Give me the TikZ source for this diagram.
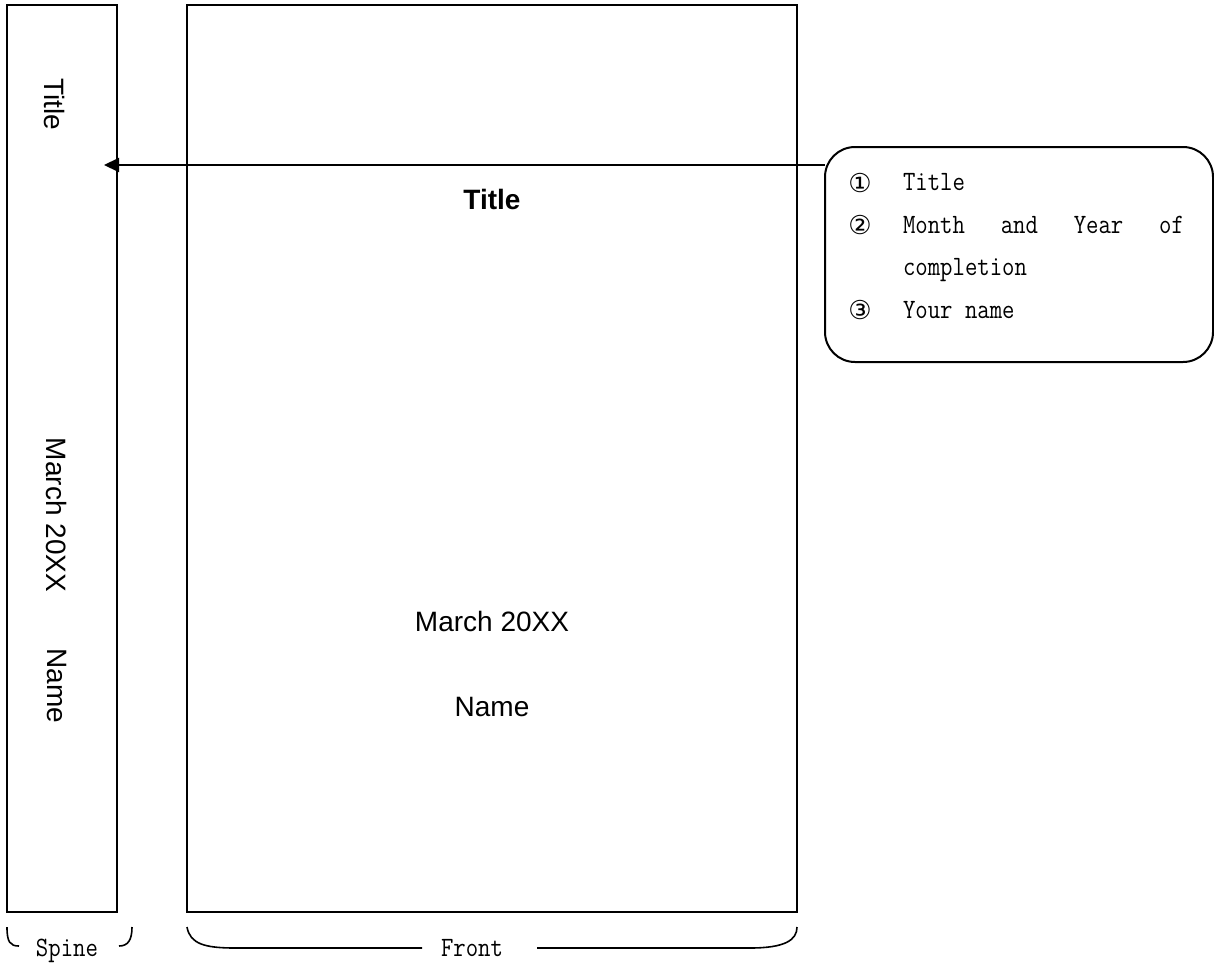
\documentclass[tikz,border=0pt]{standalone}
\usepackage{fontspec}
\setsansfont{Liberation Sans}
\setmonofont[Extension=.otf,FakeStretch=0.86]{lmmono12-regular}
\newfontfamily\circfont{DejaVu Sans}
\usetikzlibrary{arrows.meta}

\begin{document}
\begin{tikzpicture}[x=0.5pt,y=-0.5pt,>={Triangle[length=7.5pt,width=7pt]},line width=1pt,
  page/.style={draw,inner sep=0pt,outer sep=0pt,minimum height=453.5pt},
  sans/.style={font=\fontsize{14}{17}\selectfont\sffamily},
  mono/.style={font=\fontsize{14}{16}\selectfont\ttfamily,inner sep=0pt},
  circ/.style={font=\fontsize{13}{15}\selectfont\circfont,inner sep=0pt},
  brace/.style={line width=0.8pt}]
\useasboundingbox (0,0) rectangle (1214,963);

% define the spine and the front cover
  \node[page, minimum width=55pt]  (spine) at (62,458.5)  {};
  \node[page, minimum width=305pt] (front) at (492,458.5) {};

% texts on the spine
  \node[sans, rotate=-90] (sptitle) at (55,104) {Title};
  \node[sans, rotate=-90] (spdate)  at (57,515) {March 20XX};
  \node[sans, rotate=-90] (spname)  at (57,686) {Name};

% texts on the front
  \node[sans, font=\fontsize{14}{17}\selectfont\sffamily\bfseries] (frtitle) at (492,199) {Title};
  \node[sans] (frdate) at (492,621) {March 20XX};
  \node[sans] (frname) at (492,707) {Name};

% define the note
  \node[draw, rounded corners=15pt, minimum width=194pt, minimum height=107.5pt,
        inner sep=0pt, outer sep=0pt] (note) at (1019,254.5) {};
  \node[circ] (n1) at (860,183) {①};
  \node[circ] (n2) at (860,225) {②};
  \node[circ] (n3) at (860,310) {③};
  \node[mono, anchor=base west] (item1)  at (902,190)   {Title};
  \node[mono, anchor=base west] (item2)  at (902,233)   {\hbox to 140.5pt{Month\hfill and\hfill Year\hfill of}};
  \node[mono, anchor=base west] (item2b) at (902,275.5) {completion};
  \node[mono, anchor=base west] (item3)  at (902,318)   {Your name};

% define the link
  \coordinate (tip) at (104,165);
  \draw[->] (note.west |- tip) -- (tip);

% braces under the pages
  \draw[brace] (7,927) .. controls (7,942) and (10,946) .. (19,946);
  \draw[brace] (132,927) .. controls (132,940) and (128,946) .. (119,946);
  \node[mono, anchor=base] (spinelbl) at (67,956) {Spine};
  \draw[brace] (187,927) .. controls (190,944) and (205,948) .. (235,948) -- (422,948);
  \draw[brace] (537,948) -- (750,948) .. controls (785,948) and (797,940) .. (797,927);
  \node[mono, anchor=base] (frontlbl) at (472,956) {Front};
\end{tikzpicture}
\end{document}
